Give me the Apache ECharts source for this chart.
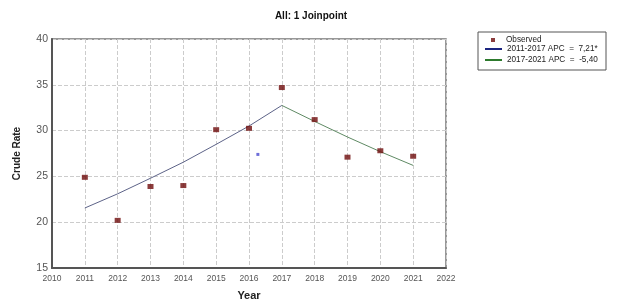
<!DOCTYPE html>
<html>
<head>
<meta charset="utf-8">
<script src="https://cdn.jsdelivr.net/npm/echarts@6/dist/echarts.min.js"></script>
<style>
  html, body { margin: 0; padding: 0; background: #fff; }
  #chart { width: 619px; height: 306px; }
</style>
</head>
<body>
<div id="chart"></div>
<script>
  // observed crude rates
  var years = [2011, 2012, 2013, 2014, 2015, 2016, 2017, 2018, 2019, 2020, 2021];
  var observed = [24.9, 20.2, 23.9, 24.0, 30.1, 30.25, 34.7, 31.2, 27.1, 27.8, 27.2];
  // fitted joinpoint segments
  var seg1Years = [2011, 2012, 2013, 2014, 2015, 2016, 2017];
  var seg1Vals = [21.55, 23.1, 24.8, 26.55, 28.5, 30.5, 32.75];
  var seg2Years = [2017, 2018, 2019, 2020, 2021];
  var seg2Vals = [32.75, 31.0, 29.3, 27.7, 26.2];
  // stray blue point
  var extraPoint = [2016.27, 27.4];

  var seg1Name = '2011-2017 APC  =  7,21*';
  var seg2Name = '2017-2021 APC  =  -5,40';

  function pairs(xs, ys) {
    return xs.map(function (x, i) { return [x, ys[i]]; });
  }

  var lineIcon = 'path://M0,0h17v2h-17z';

  var myChart = echarts.init(document.getElementById('chart'));
  var option = {
    backgroundColor: '#fff',
    animation: false,
    title: {
      text: 'All: 1 Joinpoint',
      left: 306,
      textAlign: 'center',
      top: 6,
      textStyle: { fontFamily: 'Liberation Sans', fontSize: 10, fontWeight: 'bold', color: '#111' }
    },
    grid: {
      left: 52, top: 39, right: 173, bottom: 38,
      show: true, borderColor: '#777', borderWidth: 1.5
    },
    legend: [{
      left: 491, top: 36, padding: 0,
      itemWidth: 4, itemHeight: 4,
      textStyle: { fontFamily: 'Liberation Sans', fontSize: 8.2, color: '#222', padding: [0, 0, 0, 6] },
      data: [{ name: 'Observed', icon: 'rect', itemStyle: { color: '#6e0b0b', borderWidth: 0 } }]
    }, {
      left: 485, top: 44, padding: 0, orient: 'vertical',
      itemWidth: 17, itemHeight: 10, itemGap: 1,
      textStyle: { fontFamily: 'Liberation Sans', fontSize: 8.2, color: '#222', lineHeight: 10 },
      data: [
        { name: seg1Name, icon: lineIcon, itemStyle: { color: '#1c2580', borderWidth: 0 } },
        { name: seg2Name, icon: lineIcon, itemStyle: { color: '#2d7a2d', borderWidth: 0 } }
      ]
    }],
    graphic: [{
      type: 'rect',
      shape: { x: 478, y: 32, width: 128, height: 38 },
      style: { fill: 'none', stroke: '#555', lineWidth: 1 }
    }],
    xAxis: {
      type: 'value', min: 2010, max: 2022, interval: 1,
      name: 'Year', nameLocation: 'middle', nameGap: 22,
      nameTextStyle: { fontFamily: 'Liberation Sans', fontSize: 11, fontWeight: 'bold', color: '#222' },
      axisLine: { lineStyle: { color: '#555', width: 2 } },
      axisTick: { show: false },
      axisLabel: {
        fontFamily: 'Liberation Sans', fontSize: 8.5, color: '#555', margin: 6,
        formatter: function (v) { return String(v); }
      },
      splitLine: { show: true, lineStyle: { color: '#ccc', type: 'dashed', width: 1 } }
    },
    yAxis: {
      type: 'value', min: 15, max: 40, interval: 5,
      name: 'Crude Rate', nameLocation: 'middle', nameGap: 30,
      nameTextStyle: { fontFamily: 'Liberation Sans', fontSize: 10, fontWeight: 'bold', color: '#222' },
      axisLine: { show: true, lineStyle: { color: '#555', width: 2 } },
      axisTick: { show: false },
      axisLabel: { fontFamily: 'Liberation Sans', fontSize: 10.5, color: '#555', margin: 4 },
      splitLine: { show: true, lineStyle: { color: '#ccc', type: 'dashed', width: 1 } }
    },
    series: [{
      name: seg1Name, type: 'line', symbol: 'none',
      data: pairs(seg1Years, seg1Vals),
      color: '#1c2580',
      lineStyle: { color: '#5d6388', width: 1 }
    }, {
      name: seg2Name, type: 'line', symbol: 'none',
      data: pairs(seg2Years, seg2Vals),
      color: '#2d7a2d',
      lineStyle: { color: '#5f8a64', width: 1 }
    }, {
      name: 'Observed', type: 'scatter', symbol: 'rect', symbolSize: [6, 5],
      data: pairs(years, observed),
      itemStyle: { color: '#6e0b0b' },
      z: 5
    }, {
      name: 'extra', type: 'scatter', symbol: 'rect', symbolSize: 3,
      data: [extraPoint],
      itemStyle: { color: '#4a4ad0' }
    }]
  };
  myChart.setOption(option);
</script>
</body>
</html>
